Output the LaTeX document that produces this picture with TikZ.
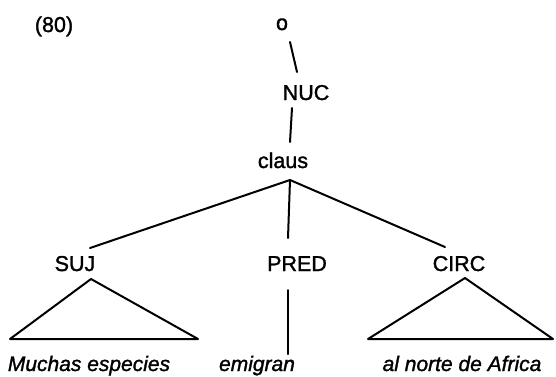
\documentclass[tikz,border=0pt]{standalone}
\usepackage{fontspec}
\setmainfont{Liberation Sans}[FakeBold=1.4]
\begin{document}
\begin{tikzpicture}[x=1pt,y=-1pt,
  lbl/.style={inner sep=0pt,anchor=base,font=\fontsize{21.5}{24}\selectfont},
  wrd/.style={inner sep=0pt,anchor=base,font=\fontsize{21}{24}\selectfont\itshape},
  edge/.style={line width=2pt,line cap=round,line join=round}]
\useasboundingbox (0,0) rectangle (556,376);
\node[lbl] (num) at (54,32) {(80)};
\node[lbl] (o) at (282,30) {o};
\node[lbl] (nuc) at (306,100) {NUC};
\node[lbl] (claus) at (283,168) {claus};
\node[lbl] (suj) at (75,271) {SUJ};
\node[lbl] (pred) at (297,271) {PRED};
\node[lbl] (circ) at (459,271) {CIRC};
\node[wrd] (much) at (89,371) {Muchas especies};
\node[wrd] (emig) at (257,371) {emigran};
\node[wrd] (norte) at (462,371) {al norte de Africa};
\coordinate (apex) at ([shift={(7,12)}]claus.base);
\draw[edge] ([shift={(8,12)}]o.base) -- ([shift={(-9,-28)}]nuc.base);
\draw[edge] ([shift={(-14,8)}]nuc.base) -- ([shift={(7,-26)}]claus.base);
\draw[edge] ([shift={(15,-23)}]suj.base) -- (apex) -- ([shift={(-14,-24)}]circ.base);
\draw[edge] (apex) -- ([shift={(-9,-33)}]pred.base);
\draw[edge] ([shift={(-9,19)}]pred.base) -- ([shift={(31,-17)}]emig.base);
\draw[edge] ([shift={(16,8)}]suj.base) -- ([shift={(-79,-32)}]much.base) -- ([shift={(109,-32)}]much.base) -- cycle;
\draw[edge] ([shift={(6,7)}]circ.base) -- ([shift={(-94,-32)}]norte.base) -- ([shift={(91,-32)}]norte.base) -- cycle;
\end{tikzpicture}
\end{document}
